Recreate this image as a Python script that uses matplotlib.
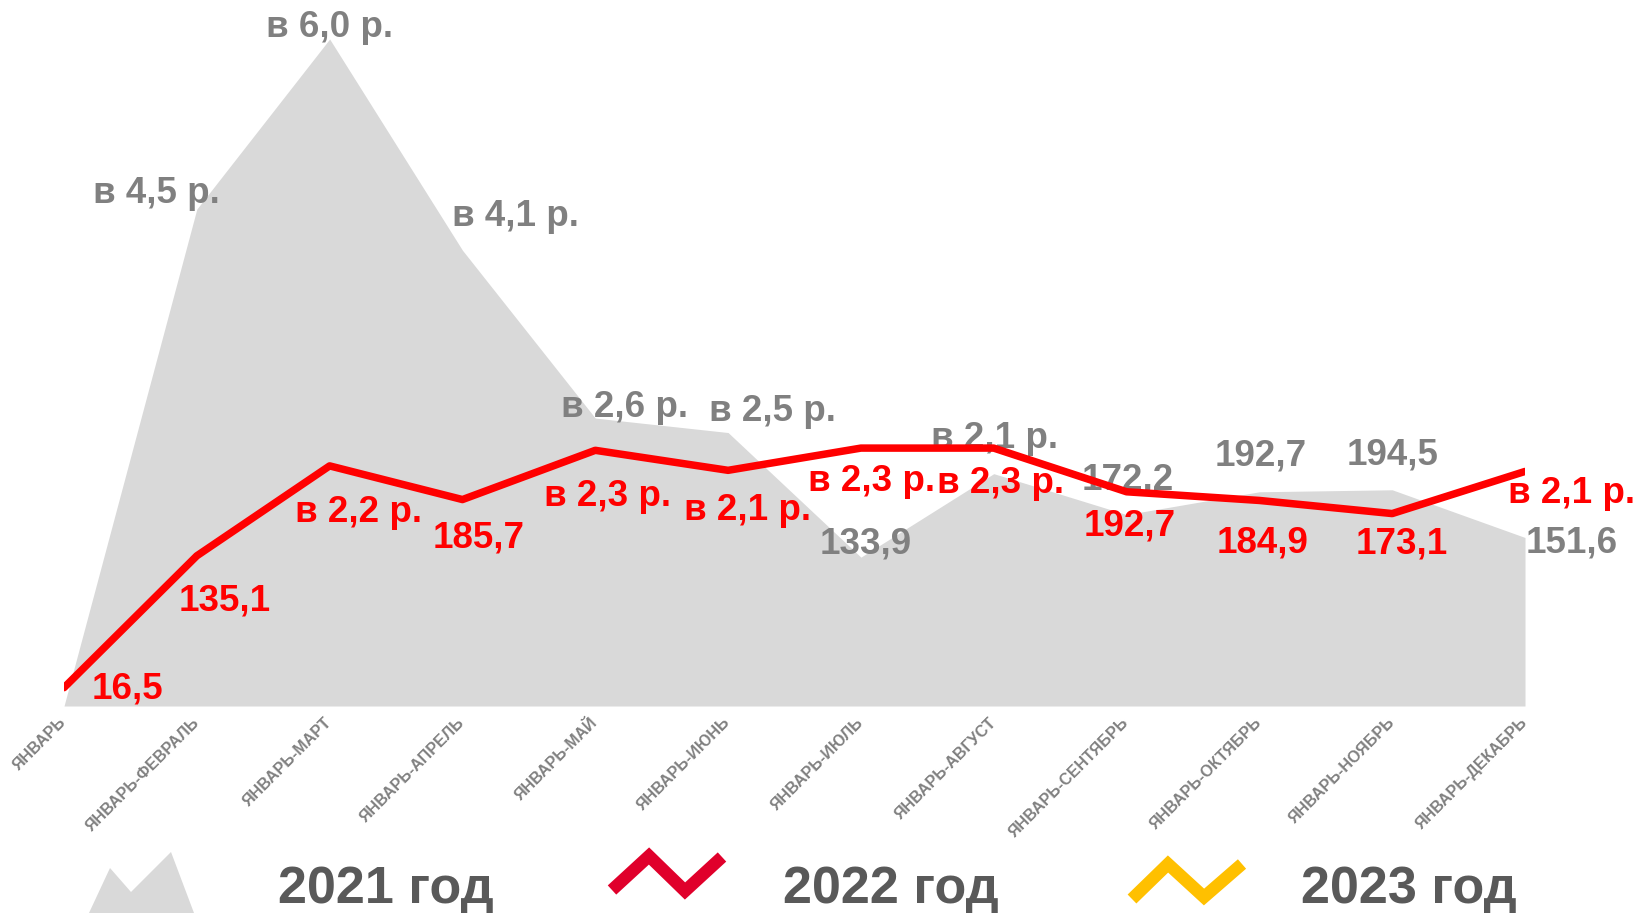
import numpy as np
import matplotlib.pyplot as plt
from matplotlib.patches import Polygon

plt.rcParams['font.family'] = ['Liberation Sans', 'DejaVu Sans']

categories = ['ЯНВАРЬ', 'ЯНВАРЬ-ФЕВРАЛЬ', 'ЯНВАРЬ-МАРТ', 'ЯНВАРЬ-АПРЕЛЬ', 'ЯНВАРЬ-МАЙ',
              'ЯНВАРЬ-ИЮНЬ', 'ЯНВАРЬ-ИЮЛЬ', 'ЯНВАРЬ-АВГУСТ', 'ЯНВАРЬ-СЕНТЯБРЬ',
              'ЯНВАРЬ-ОКТЯБРЬ', 'ЯНВАРЬ-НОЯБРЬ', 'ЯНВАРЬ-ДЕКАБРЬ']
values_2021 = [0, 447, 600, 410, 259, 246, 133.9, 209, 172.2, 192.7, 194.5, 151.6]
values_2022 = [16.5, 135.1, 216, 185.7, 230, 212, 232, 232, 192.7, 184.9, 173.1, 211]
labels_2021 = ['', 'в 4,5 р.', 'в 6,0 р.', 'в 4,1 р.', 'в 2,6 р.', 'в 2,5 р.', '133,9',
               'в 2,1 р.', '172,2', '192,7', '194,5', '151,6']
labels_2022 = ['16,5', '135,1', 'в 2,2 р.', '185,7', 'в 2,3 р.', 'в 2,1 р.', 'в 2,3 р.',
               'в 2,3 р.', '192,7', '184,9', '173,1', 'в 2,1 р.']
legend_years = ['2021 год', '2022 год', '2023 год']

# label offsets in pixels (baseline, centred)
off_2021 = [(0, 0), (-40, 6), (0, 2), (53, 24), (29, 1), (44, 12), (5, 4),
            (1, 26), (1, 25), (1, 26), (0, 25), (47, -15)]
off_2022 = [(63, -11), (28, -55), (29, -56), (16, -48), (12, -56), (19, -50),
            (11, -43), (7, -45), (3, -44), (3, -52), (10, -40), (47, -32)]

GRAY_AREA = '#D9D9D9'
GRAY_TEXT = '#808080'
RED = '#FF0000'

W, H = 1640, 913
fig = plt.figure(figsize=(W / 100, H / 100), dpi=100)
ax = fig.add_axes([64 / W, 207 / H, (1525 - 64) / W, 667 / H])
x = np.arange(len(categories))

ax.fill_between(x, 0, values_2021, color=GRAY_AREA, lw=0, zorder=1)
ax.plot(x, values_2022, color=RED, lw=5.4, solid_capstyle='round',
        solid_joinstyle='round', zorder=3)

for i in range(len(x)):
    if labels_2021[i]:
        ax.annotate(labels_2021[i], (x[i], values_2021[i]), xytext=off_2021[i],
                    textcoords='offset pixels', ha='center', va='baseline',
                    fontsize=26.5, fontweight='bold', color=GRAY_TEXT, zorder=2.5)
    ax.annotate(labels_2022[i], (x[i], values_2022[i]), xytext=off_2022[i],
                textcoords='offset pixels', ha='center', va='baseline',
                fontsize=26.5, fontweight='bold', color=RED, zorder=4)

ax.set_xlim(0, len(x) - 1)
ax.set_ylim(0, 600)
ax.set_yticks([])
ax.set_xticks(x)
ax.set_xticklabels(categories, rotation=45, ha='right', va='center',
                   rotation_mode='anchor', fontsize=11.5, fontweight='bold',
                   color=GRAY_TEXT)
ax.tick_params(axis='x', length=0, pad=10)
for s in ax.spines.values():
    s.set_visible(False)
ax.patch.set_alpha(0)

# legend, drawn in pixel space
lg = fig.add_axes([0, 0, 1, 1], zorder=-1)
lg.set_xlim(0, W)
lg.set_ylim(H, 0)
lg.axis('off')
lg.add_patch(Polygon([(89, 913), (110, 868), (131, 892), (171, 852), (194, 913)],
                     closed=True, color=GRAY_AREA, lw=0))
lg.plot([612, 649, 685, 722], [890, 856, 891, 857], color='#E0002B', lw=9,
        solid_capstyle='butt', solid_joinstyle='miter')
lg.plot([1132, 1168, 1204, 1242], [899, 864, 897, 864], color='#FFC000', lw=9,
        solid_capstyle='butt', solid_joinstyle='miter')
for xt, t in zip([278, 783, 1301], legend_years):
    lg.text(xt, 903, t, ha='left', va='baseline', fontsize=37.5, fontweight='bold',
            color='#595959')

fig.savefig('out.png', dpi=100)
